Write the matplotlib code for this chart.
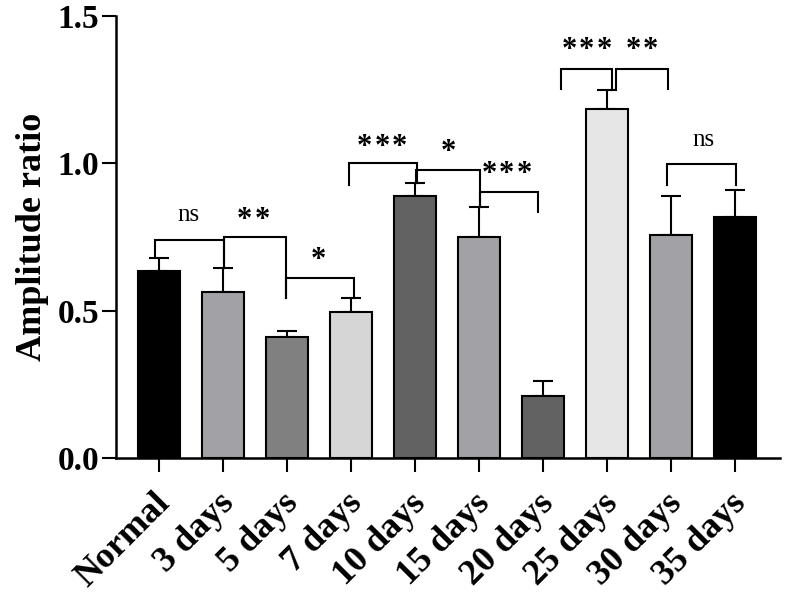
import numpy as np
import matplotlib
matplotlib.use("Agg")
import matplotlib.pyplot as plt
import matplotlib.transforms as mtransforms

# bar heights and upper error (mean + sem)
groups = ["Normal", "3 days", "5 days", "7 days", "10 days",
          "15 days", "20 days", "25 days", "30 days", "35 days"]
means = [0.636, 0.565, 0.412, 0.495, 0.889, 0.749, 0.212, 1.183, 0.756, 0.819]
err_top = [0.678, 0.644, 0.433, 0.544, 0.932, 0.851, 0.263, 1.248, 0.890, 0.908]
fills = ["#000000", "#a2a2a6", "#808080", "#d6d6d6", "#626262",
         "#a2a2a6", "#626262", "#e6e6e6", "#a2a2a6", "#000000"]

# significance comparisons between neighbouring groups
pairs = [(0, 1), (1, 2), (2, 3), (3, 4), (4, 5), (5, 6), (6, 7), (7, 8), (8, 9)]
sig = ["ns", "**", "*", "***", "*", "***", "***", "**", "ns"]

# bracket layout: (x left offset, x right offset, bar y, left leg end, right leg end, label x, label y)
layout = [
    (-0.07, 0.02, 0.740, 0.679, 0.645, 0.45, 0.825),
    (0.02, -0.02, 0.749, 0.645, 0.543, 1.47, 0.831),
    (-0.02, 0.04, 0.612, 0.543, 0.544, 2.48, 0.696),
    (-0.03, 0.03, 1.000, 0.926, 0.932, 3.48, 1.079),
    (0.02, 0.02, 0.977, 0.932, 0.851, 4.52, 1.062),
    (0.02, -0.08, 0.903, 0.851, 0.833, 5.43, 0.988),
    (0.28, 0.07, 1.320, 1.251, 1.248, 6.68, 1.407),
    (0.14, -0.05, 1.320, 1.251, 1.251, 7.54, 1.407),
    (-0.06, 0.01, 0.998, 0.926, 0.926, 8.50, 1.079),
]

plt.rcParams["font.family"] = ["Liberation Serif", "DejaVu Serif"]
plt.rcParams["font.weight"] = "bold"

fig = plt.figure(figsize=(7.86, 5.94), dpi=100)
ax = fig.add_axes([0.1472, 0.2285, 0.845, 0.7451])

x = np.arange(len(groups))
means = np.array(means)
err = np.array(err_top) - means
ax.bar(x, means, width=0.65, color=fills, edgecolor="black", linewidth=1.5, zorder=2)
ax.errorbar(x, means, yerr=[np.zeros_like(err), err], fmt="none", ecolor="black",
            elinewidth=1.5, capsize=7.5, capthick=1.5, zorder=1)

for (i, j), lab, (dl, dr, yb, yl, yr, tx, ty) in zip(pairs, sig, layout):
    xl, xr = i + dl, j + dr
    ax.plot([xl, xl, xr, xr], [yl, yb, yb, yr], color="black", lw=1.5,
            solid_joinstyle="miter", zorder=3, clip_on=False)
    if lab == "ns":
        ax.text(tx, ty, lab, ha="center", va="center", fontsize=18,
                fontweight="normal")
    else:
        # one star per text so the gaps match the original spacing
        n = len(lab)
        for k in range(n):
            off = mtransforms.ScaledTranslation((k - (n - 1) / 2) * 17.5 / 100, 0,
                                                fig.dpi_scale_trans)
            ax.text(tx, ty - 0.025, "*", ha="center", va="center",
                    fontsize=22, fontweight="bold",
                    transform=ax.transData + off)

ax.set_xlim(-0.68, 9.70)
ax.set_ylim(0, 1.5)
ax.set_yticks([0.0, 0.5, 1.0, 1.5])
ax.set_yticklabels(["0.0", "0.5", "1.0", "1.5"])
ax.set_xticks(x)
ax.set_xticklabels(groups, rotation=45, ha="right", va="center",
                   rotation_mode="anchor")
ax.tick_params(axis="both", width=1.5, length=10, direction="out")
ax.tick_params(axis="y", pad=2, labelsize=24)
ax.tick_params(axis="x", pad=16, labelsize=26)
shift = mtransforms.ScaledTranslation(6 / 100, -4 / 100, fig.dpi_scale_trans)
for lab in ax.get_xticklabels():
    lab.set_fontweight("bold")
    lab.set_transform(lab.get_transform() + shift)
for lab in ax.get_yticklabels():
    lab.set_fontweight("bold")

for s in ["top", "right"]:
    ax.spines[s].set_visible(False)
for s in ["left", "bottom"]:
    ax.spines[s].set_linewidth(1.8)

ax.set_ylabel("Amplitude ratio", fontsize=26, fontweight="bold", labelpad=6)

fig.savefig("out.png", dpi=100)
